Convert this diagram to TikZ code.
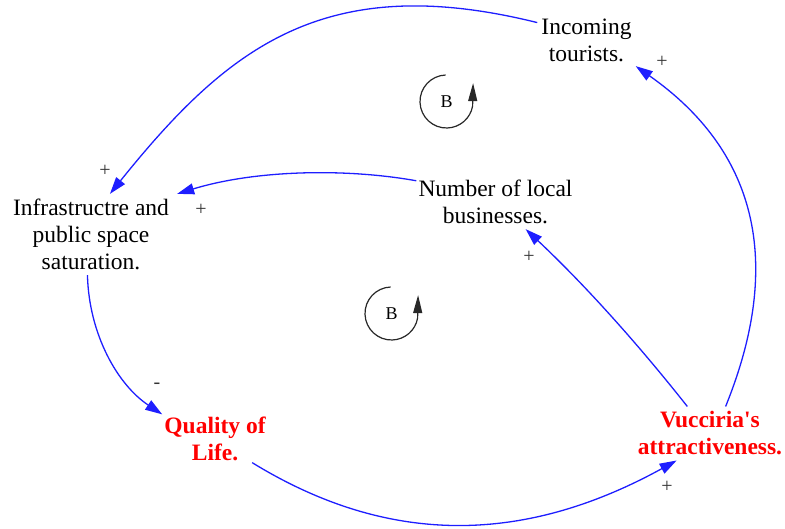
\documentclass[tikz,border=0pt]{standalone}
\usepackage{fontspec}
\setmainfont{Liberation Serif}[Ligatures=TeXOff]
\usetikzlibrary{arrows.meta}
\definecolor{linkblue}{RGB}{30,30,255}
\definecolor{keyred}{RGB}{255,0,0}
\definecolor{loopgray}{RGB}{40,40,40}
\begin{document}
\begin{tikzpicture}[x=1pt,y=-1pt,
  lbl/.style={align=center, font=\fontsize{23.5}{27}\selectfont, inner sep=2pt},
  keyvar/.style={text=keyred, font=\fontsize{23.5}{27}\selectfont\bfseries},
  link/.style={draw=linkblue, line width=1.3pt, -{Triangle[length=17pt,width=11pt]}},
  sign/.style={font=\fontsize{20}{20}\selectfont, text=black!80, inner sep=0pt},
  loopline/.style={draw=loopgray, line width=1.2pt, -{Triangle[length=18pt,width=9pt]}},
  btxt/.style={font=\fontsize{18}{18}\selectfont, inner sep=0pt}
]
\useasboundingbox (0,0) rectangle (785,529);

% variables
\node[lbl, inner sep=4pt] (inc) at (586.5,40.5) {Incoming\\tourists.};
\node[lbl, inner xsep=8pt, inner ysep=5pt] (infra) at (91,234.5) {Infrastructre and\\public space\\saturation.};
\node[lbl, inner ysep=5pt] (num) at (495.5,202) {Number of local\\businesses.};
\node[lbl, keyvar] (qol) at (215,438.5) {Quality of\\Life.};
\node[lbl, keyvar, inner ysep=5pt] (vuc) at (710,433.5) {Vucciria's\\attractiveness.};

% links
\draw[link] (inc.160) .. controls (325,-30) and (228,47) .. (infra.65);
\draw[link] (num.165) .. controls (345,168) and (255,170) .. (infra.north east);
\draw[link] (infra.265) .. controls (89,335) and (118,385) .. (qol.north west);
\draw[link] (qol.-33) .. controls (396,551) and (532,540) .. (vuc.-141);
\draw[link] (vuc.130) .. controls (638,344) and (585,285) .. (num.-42);
\draw[link] (vuc.60) .. controls (785,260) and (755,150) .. (inc.south east);

% polarities
\node[sign] (s1) at (105,171) {+};
\node[sign] (s2) at (201,210) {+};
\node[sign] (s3) at (157,386) {-};
\node[sign] (s4) at (667,487) {+};
\node[sign] (s5) at (529,257) {+};
\node[sign] (s6) at (662,62) {+};

% loop markers
\draw[loopline] (446.5,101.5) ++(-92:26.5) arc[start angle=-92, end angle=-350, radius=26.5] -- ++(0.5,-23);
\node[btxt] (b1) at (446.5,102) {B};
\draw[loopline] (391.5,313.5) ++(-92:26.5) arc[start angle=-92, end angle=-350, radius=26.5] -- ++(0.5,-23);
\node[btxt] (b2) at (391.5,314) {B};
\end{tikzpicture}
\end{document}
